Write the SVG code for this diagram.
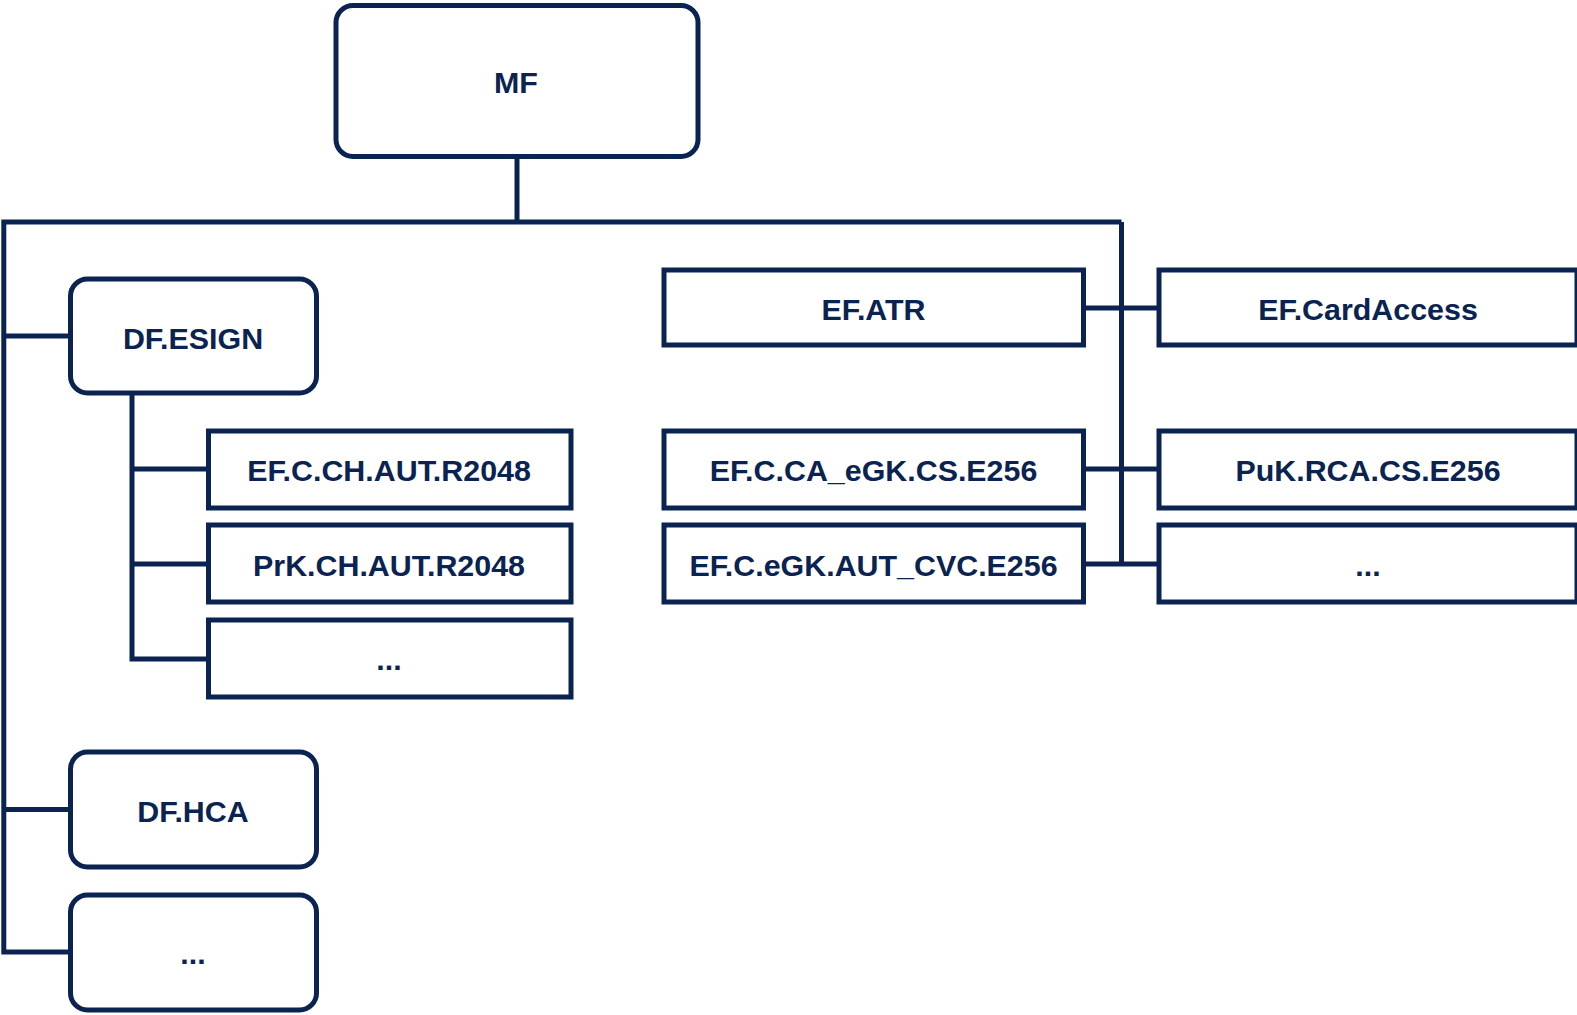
<svg xmlns="http://www.w3.org/2000/svg" width="1577" height="1015" viewBox="0 0 1577 1015">
<style>
.box{fill:#ffffff;stroke:#0b2350;stroke-width:5}
.lbl{font-family:"Liberation Sans",Arial,sans-serif;font-weight:bold;font-size:30.4px;fill:#0b2350;text-anchor:middle}
.conn{fill:none;stroke:#0b2350;stroke-width:5;stroke-linejoin:miter;stroke-linecap:butt}
</style>
<rect width="1577" height="1015" fill="#ffffff"/>
<g id="connectors">
<path class="conn" d="M517 156.5 V222"/>
<path class="conn" d="M1121.5 222 H3.8 V952 H70"/>
<path class="conn" d="M3.8 336 H70.5"/>
<path class="conn" d="M3.8 809.5 H70"/>
<path class="conn" d="M132 393 V659 H208.5"/>
<path class="conn" d="M132 469 H208.5"/>
<path class="conn" d="M132 564 H208.5"/>
<path class="conn" d="M1121.5 222 V564"/>
<path class="conn" d="M1083.5 308 H1159"/>
<path class="conn" d="M1083.5 469 H1159"/>
<path class="conn" d="M1083.5 564 H1159"/>
</g>
<g id="node-mf"><rect class="box" x="336" y="5.5" width="362" height="151" rx="17"/><text class="lbl" x="516" y="92.5">MF</text></g>
<g id="node-df-esign"><rect class="box" x="70.5" y="279" width="246" height="114" rx="17"/><text class="lbl" x="193" y="349">DF.ESIGN</text></g>
<g id="node-ef-c-ch-aut"><rect class="box" x="208.5" y="431" width="362.5" height="77"/><text class="lbl" x="389" y="481">EF.C.CH.AUT.R2048</text></g>
<g id="node-prk-ch-aut"><rect class="box" x="208.5" y="525" width="362.5" height="77"/><text class="lbl" x="389" y="575.5">PrK.CH.AUT.R2048</text></g>
<g id="node-esign-more"><rect class="box" x="208.5" y="620" width="362.5" height="77"/><text class="lbl" x="389" y="670">...</text></g>
<g id="node-df-hca"><rect class="box" x="70.5" y="752" width="246" height="115" rx="17"/><text class="lbl" x="193" y="821.5">DF.HCA</text></g>
<g id="node-df-more"><rect class="box" x="70.5" y="895" width="246" height="115" rx="17"/><text class="lbl" x="193" y="964">...</text></g>
<g id="node-ef-atr"><rect class="box" x="664" y="270" width="419.5" height="75"/><text class="lbl" x="873.5" y="319.5">EF.ATR</text></g>
<g id="node-ef-cardaccess"><rect class="box" x="1159" y="270" width="418" height="75"/><text class="lbl" x="1368" y="319.5">EF.CardAccess</text></g>
<g id="node-ef-c-ca"><rect class="box" x="664" y="431" width="419.5" height="77"/><text class="lbl" x="873.5" y="481">EF.C.CA_eGK.CS.E256</text></g>
<g id="node-puk-rca"><rect class="box" x="1159" y="431" width="418" height="77"/><text class="lbl" x="1368" y="481">PuK.RCA.CS.E256</text></g>
<g id="node-ef-c-egk-aut"><rect class="box" x="664" y="525" width="419.5" height="77"/><text class="lbl" x="873.5" y="575.5">EF.C.eGK.AUT_CVC.E256</text></g>
<g id="node-right-more"><rect class="box" x="1159" y="525" width="418" height="77"/><text class="lbl" x="1368" y="575.5">...</text></g>
</svg>
